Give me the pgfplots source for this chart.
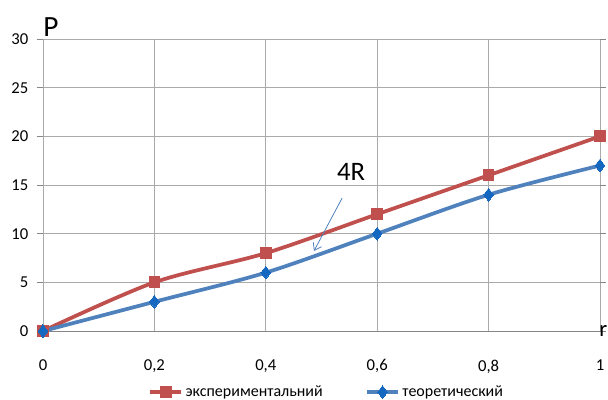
\documentclass[border=0pt]{standalone}
\usepackage{pgfplots}
\pgfplotsset{compat=1.18}
\usepackage{fontspec}
\setmainfont{Carlito}
\usetikzlibrary{arrows.meta}

\definecolor{exred}{RGB}{192,80,77}
\definecolor{thblue}{RGB}{79,129,189}
\definecolor{thmark}{RGB}{20,104,192}
\definecolor{gridgray}{RGB}{170,170,170}
\definecolor{axgray}{RGB}{134,134,134}

\begin{document}
\begin{tikzpicture}[x=0.75pt,y=0.75pt]
% page frame: 608 x 400 px, axis box origin at (43,331) px
\useasboundingbox (-43,-69) rectangle (565,331);
\begin{axis}[
  at={(0,0)}, anchor=south west,
  scale only axis,
  width=417.75pt, height=219pt,
  xmin=0, xmax=1, ymin=0, ymax=30,
  xtick={0,0.2,0.4,0.6,0.8,1},
  xticklabels={0,{0,2},{0,4},{0,6},{0,8},1},
  ytick={0,5,10,15,20,25,30},
  font=\fontsize{12.5}{14}\selectfont,
  /pgf/number format/assume math mode=true,
  axis line style={axgray},
  grid=major,
  major grid style={gridgray, line width=0.6pt},
  x axis line style={draw=none},
  y axis line style={axgray, line width=0.6pt},
  tick style={axgray, line width=0.6pt},
  x tick style={draw=none},
  major tick length=4.5pt,
  ytick align=outside,
  xticklabel style={yshift=-18pt},
  yticklabel style={xshift=-3pt},
  clip=false,
  legend columns=2,
  legend style={
    at={(0.51,-0.209)}, anchor=center,
    draw=none, fill=none,
    font=\fontsize{12}{14}\selectfont,
    /tikz/every even column/.append style={column sep=30pt},
  },
  legend image code/.code={
    \draw[mark repeat=2,mark phase=2] plot coordinates {(0pt,0pt)(11.5pt,0pt)(23pt,0pt)};
  },
]
% grid line at y=0 in the axis colour
\draw[axgray, line width=0.6pt] (axis cs:0,0) -- (axis cs:1,0);

\addplot[exred, line width=2.8pt, smooth, tension=0.5,
  mark=square*, mark size=4pt, mark options={solid, fill=exred, draw=exred, line width=0pt}]
  coordinates {(0,0) (0.2,5) (0.4,8) (0.6,12) (0.8,16) (1,20)};
\addlegendentry{экспериментальний}

\addplot[thblue, line width=2.8pt, smooth, tension=0.5,
  mark=diamond*, mark size=4.8pt, mark options={solid, fill=thmark, draw=thmark, line width=0pt}]
  coordinates {(0,0) (0.2,3) (0.4,6) (0.6,10) (0.8,14) (1,17)};
\addlegendentry{теоретический}

% annotation
\draw[thblue, line width=0.6pt, -{Straight Barb[length=5pt,width=7pt]}]
  (axis cs:0.537,13.66) -- (axis cs:0.4865,8.22);
\node[font=\fontsize{20}{22}\selectfont] at (axis cs:0.553,16.3) {4R};
\node[font=\fontsize{22}{24}\selectfont, anchor=base west, inner sep=0pt] at (axis cs:0.0,30.3) {P};
\node[font=\fontsize{17}{20}\selectfont, anchor=base east, inner sep=0pt] at (axis cs:1.0135,-0.6) {r};
\end{axis}
\end{tikzpicture}
\end{document}
